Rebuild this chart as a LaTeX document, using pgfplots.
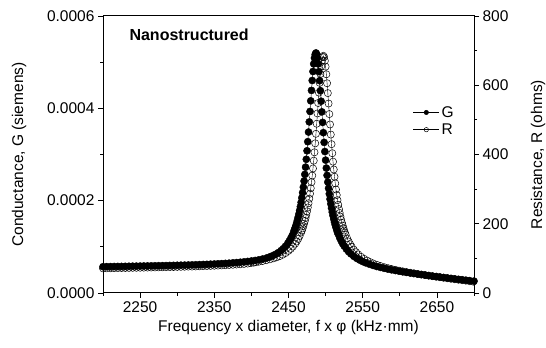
\documentclass[border=0pt]{standalone}
\usepackage{fontspec}
\setmainfont{Liberation Sans}
\usepackage{pgfplots}
\pgfplotsset{compat=1.18}
\begin{document}
\begin{tikzpicture}
\pgfplotsset{
  base/.style={
    scale only axis, width=371pt, height=277pt,
    xmin=2200, xmax=2700,
    tick align=outside, major tick length=5pt, minor tick length=3pt,
    every tick/.style={black, line width=0.8pt},
    axis line style={line width=1pt},
    tick label style={font=\fontsize{15.5}{18}\selectfont},
    /pgf/number format/assume math mode=true,
  },
}
\begin{axis}[base, name=ax,
  ymin=0, ymax=0.0006,
  xtick={2250,2350,2450,2550,2650},
  minor xtick={2200,2300,2400,2500,2600,2700},
  ytick={0,0.0002,0.0004,0.0006},
  minor ytick={0.0001,0.0003,0.0005},
  xtick pos=left, ytick pos=left,
  scaled y ticks=false, scaled x ticks=false,
  yticklabel style={/pgf/number format/.cd, fixed, fixed zerofill, precision=4},
  xticklabel style={/pgf/number format/.cd, 1000 sep={}},
  xlabel={Frequency x diameter, f x φ (kHz·mm)},
  ylabel={Conductance, G (siemens)},
  every axis y label/.style={at={(axis description cs:-0.2264,0.5)}, rotate=90, anchor=center, font=\fontsize{15.5}{18}\selectfont},
  every axis x label/.style={at={(axis description cs:0.5,-0.126)}, anchor=center, font=\fontsize{15.5}{18}\selectfont},
]
\addplot[black, line width=0.4pt, mark=*, mark size=3.6pt, mark options={line width=0.4pt}] coordinates {
(2200,56.9e-6)(2205,57.05e-6)(2210,57.2e-6)(2215,57.3e-6)(2220,57.4e-6)(2225,57.55e-6)(2230,57.7e-6)(2235,57.85e-6)(2240,58.0e-6)(2245,58.15e-6)
(2250,58.3e-6)(2255,58.45e-6)(2260,58.6e-6)(2265,58.75e-6)(2270,58.9e-6)(2275,59.05e-6)(2280,59.2e-6)(2285,59.4e-6)(2290,59.6e-6)(2295,59.8e-6)
(2300,60.0e-6)(2305,60.2e-6)(2310,60.4e-6)(2315,60.65e-6)(2320,60.9e-6)(2325,61.15e-6)(2330,61.4e-6)(2335,61.7e-6)(2340,62.0e-6)(2345,62.4e-6)
(2350,62.8e-6)(2355,63.2e-6)(2360,63.6e-6)(2365,64.1e-6)(2370,64.6e-6)(2375,65.2e-6)(2380,65.9e-6)(2385,66.6e-6)(2390,67.4e-6)(2395,68.3e-6)
(2400,69.3e-6)(2405,70.4e-6)(2410,71.8e-6)(2415,73.5e-6)(2420,75.5e-6)(2424,77.7e-6)(2428,80.3e-6)(2432,83.4e-6)(2436,87.2e-6)(2440,91.9e-6)
(2443,96.1e-6)(2446,101.3e-6)(2449,107.5e-6)(2451,112.5e-6)(2453,118.1e-6)(2455,124.6e-6)(2457,132.2e-6)(2458,136.5e-6)(2459,141.1e-6)(2460,146.1e-6)
(2461,151.5e-6)(2462,157.4e-6)(2463,163.9e-6)(2464,171.0e-6)(2465,178.6e-6)(2466,187.0e-6)(2467,196.2e-6)(2468,206.3e-6)(2469,217.3e-6)(2470,229.3e-6)
(2471,242.5e-6)(2472,256.9e-6)(2473,272.6e-6)(2474,289.6e-6)(2475,308.0e-6)(2476,327.7e-6)(2477,348.6e-6)(2478,370.6e-6)(2479,393.2e-6)(2480,416.2e-6)
(2481,438.8e-6)(2482,460.3e-6)(2483,479.8e-6)(2484,496.3e-6)(2485,509.0e-6)(2486,516.9e-6)(2487,520.0e-6)(2488,517.1e-6)(2489,509.1e-6)(2490,496.2e-6)
(2491,479.5e-6)(2492,459.9e-6)(2493,438.2e-6)(2494,415.4e-6)(2495,392.3e-6)(2496,369.5e-6)(2497,347.3e-6)(2498,326.2e-6)(2499,306.4e-6)(2500,287.8e-6)
(2501,270.6e-6)(2502,254.8e-6)(2503,240.2e-6)(2504,226.8e-6)(2505,214.7e-6)(2506,203.5e-6)(2507,193.2e-6)(2508,183.9e-6)(2509,175.3e-6)(2510,167.5e-6)
(2511,160.2e-6)(2512,153.7e-6)(2513,147.6e-6)(2514,142.0e-6)(2515,136.9e-6)(2516,132.1e-6)(2517,127.6e-6)(2519,119.8e-6)(2521,112.9e-6)(2523,107.0e-6)
(2525,101.8e-6)(2528,95.1e-6)(2531,89.5e-6)(2534,84.8e-6)(2538,79.5e-6)(2542,75.0e-6)(2546,71.3e-6)(2550,68.1e-6)(2554,65.4e-6)(2559,62.4e-6)
(2564,59.7e-6)(2569,57.4e-6)(2574,55.4e-6)(2579,53.5e-6)(2584,51.7e-6)(2589,50.2e-6)(2594,48.7e-6)(2599,47.3e-6)(2604,45.9e-6)(2609,44.6e-6)
(2614,43.4e-6)(2619,42.2e-6)(2624,41.0e-6)(2629,39.9e-6)(2634,38.8e-6)(2639,37.7e-6)(2644,36.6e-6)(2649,35.6e-6)(2654,34.6e-6)(2659,33.6e-6)
(2664,32.6e-6)(2669,31.6e-6)(2674,30.6e-6)(2679,29.6e-6)(2684,28.7e-6)(2689,27.7e-6)(2694,26.8e-6)(2700,25.7e-6)
};
\node[anchor=west, font=\bfseries\fontsize{16}{18}\selectfont] at (rel axis cs:0.062,0.931) {Nanostructured};
\end{axis}
\begin{axis}[base,
  ymin=0, ymax=800,
  axis x line=none, axis y line*=right,
  y axis line style={-, line width=1pt},
  ytick={0,200,400,600,800},
  minor ytick={100,300,500,700},
  ylabel={Resistance, R (ohms)},
  every axis y label/.style={at={(axis description cs:1.1725,0.5)}, rotate=90, anchor=center, font=\fontsize{15.5}{18}\selectfont},
  legend style={at={(axis description cs:0.951,0.682)}, anchor=north east, draw=none, fill=none,
    font=\fontsize{15.5}{18}\selectfont, inner sep=0pt, row sep=1pt, cells={anchor=west}},
  legend image code/.code={\draw[mark repeat=2,mark phase=2,#1] plot coordinates {(0pt,0pt) (13pt,0pt) (26pt,0pt)};},
]
\addlegendimage{black, line width=0.5pt, mark=*, mark size=2.2pt}
\addlegendentry{G}
\addlegendimage{black, line width=0.5pt, mark=o, mark size=2.2pt}
\addlegendentry{R}
\addplot[black, line width=0.4pt, mark=o, mark size=3.6pt, mark options={line width=0.5pt}, forget plot] coordinates {
(2200,71.1)(2205,71.3)(2210,71.5)(2215,71.7)(2220,71.9)(2225,72.1)(2230,72.25)(2235,72.4)(2240,72.6)(2245,72.8)
(2250,73.0)(2255,73.2)(2260,73.45)(2265,73.7)(2270,73.9)(2275,74.1)(2280,74.35)(2285,74.6)(2290,74.85)(2295,75.1)
(2300,75.35)(2305,75.6)(2310,75.9)(2315,76.2)(2320,76.5)(2325,76.8)(2330,77.15)(2335,77.5)(2340,77.9)(2345,78.3)
(2350,78.75)(2355,79.2)(2360,79.75)(2365,80.3)(2370,80.9)(2375,81.5)(2380,82.25)(2385,83.0)(2390,84.0)(2395,85.0)
(2399,86.3)(2403,87.6)(2406,88.9)(2410,90.4)(2415,92.3)(2420,94.7)(2425,97.2)(2430,100.2)(2434,103.0)(2438,106.4)(2442,110.5)(2446,115.5)
(2450,121.7)(2453,127.4)(2456,134.1)(2459,142.4)(2461,148.8)(2463,156.2)(2465,164.8)(2467,174.9)(2468,180.4)(2469,186.5)
(2470,193.2)(2471,200.3)(2472,208.0)(2473,216.6)(2474,225.9)(2475,236.0)(2476,247.0)(2477,259.2)(2478,272.4)(2479,286.9)
(2480,302.7)(2481,320.1)(2482,339.1)(2483,359.7)(2484,382.2)(2485,406.3)(2486,432.3)(2487,459.8)(2488,488.8)(2489,518.6)
(2490,548.8)(2491,578.6)(2492,606.9)(2493,632.6)(2494,654.3)(2495,671.0)(2496,681.4)(2497,685.0)(2498,681.2)(2499,670.5)
(2500,653.7)(2501,631.7)(2502,605.8)(2503,577.3)(2504,547.3)(2505,516.8)(2506,486.8)(2507,457.6)(2508,429.9)(2509,403.7)
(2510,379.3)(2511,356.7)(2512,335.8)(2513,316.6)(2514,299.0)(2515,283.0)(2516,268.2)(2517,254.8)(2518,242.4)(2519,231.2)
(2520,220.8)(2521,211.3)(2522,202.6)(2523,194.6)(2524,187.3)(2525,180.4)(2526,174.1)(2527,168.3)(2529,157.8)(2531,148.7)
(2533,140.9)(2535,134.1)(2538,125.1)(2541,117.8)(2544,111.4)(2548,104.4)(2552,98.5)(2556,93.5)(2560,89.2)(2564,85.5)
(2569,81.4)(2574,77.9)(2579,74.6)(2584,71.8)(2589,69.2)(2594,66.9)(2599,64.6)(2604,62.55)(2609,60.5)(2614,58.65)(2619,56.8)
(2624,55.1)(2629,53.4)(2634,51.75)(2639,50.1)(2644,48.55)(2649,47.0)(2654,45.5)(2659,44.0)(2664,42.55)(2669,41.1)
(2674,39.7)(2679,38.3)(2684,36.95)(2689,35.6)(2694,34.2)(2699,32.8)
};
\end{axis}
\pgfresetboundingbox
\path[use as bounding box] ([xshift=-103pt,yshift=-55pt]ax.south west) rectangle ([xshift=72pt,yshift=16pt]ax.north east);
\end{tikzpicture}
\end{document}
